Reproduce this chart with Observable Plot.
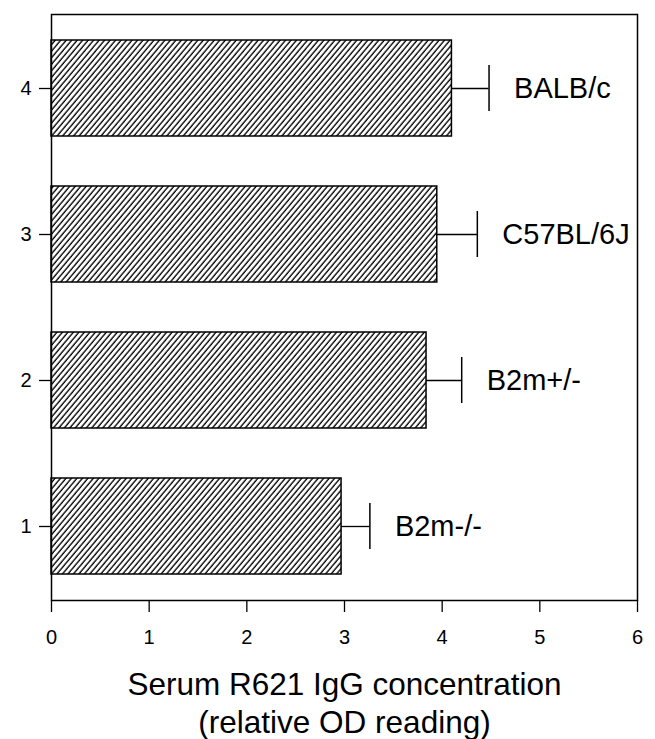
<!DOCTYPE html>
<html>
<head>
<meta charset="utf-8">
<script src="https://cdn.jsdelivr.net/npm/d3@7"></script>
<script src="https://cdn.jsdelivr.net/npm/@observablehq/plot@0.6"></script>
<style>
  html, body { margin: 0; padding: 0; background: #fff; }
  svg { font-family: "Liberation Sans", Arial, Helvetica, sans-serif; }
</style>
</head>
<body>
<div id="chart"></div>
<script>
// Data
const groups = ["1", "2", "3", "4"];
const strains = ["B2m-/-", "B2m+/-", "C57BL/6J", "BALB/c"];
const means = [2.97, 3.84, 3.95, 4.10];
const upper = [3.26, 4.20, 4.36, 4.48];
const xTicks = [0, 1, 2, 3, 4, 5, 6];
const axisTitle = "Serum R621 IgG concentration\n(relative OD reading)";

const rows = groups.map((g, i) => ({group: g, strain: strains[i], mean: means[i], upper: upper[i]}));

const plot = Plot.plot({
  width: 655,
  height: 739,
  marginLeft: 51,
  marginRight: 18,
  marginTop: 14,
  marginBottom: 139,
  style: {fontFamily: '"Liberation Sans", Arial, Helvetica, sans-serif', fontSize: "20px", background: "#fff", color: "#000"},
  x: {domain: [0, 6]},
  y: {domain: groups.slice().reverse(), paddingInner: 0.345, paddingOuter: 0.1725},
  marks: [
    Plot.barX(rows, {x: "mean", y: "group", fill: "url(#hatch)", stroke: "#000", strokeWidth: 1.5}),
    Plot.ruleY(rows, {y: "group", x1: "mean", x2: "upper", stroke: "#000", strokeWidth: 1.3}),
    Plot.tickX(rows, {x: "upper", y: "group", insetTop: 25, insetBottom: 25, stroke: "#000", strokeWidth: 1.5}),
    Plot.text(rows, {x: "upper", y: "group", text: "strain", dx: 25, textAnchor: "start", fontSize: 29, fill: "#000"}),
    Plot.frame({stroke: "#000", strokeWidth: 1.5}),
    Plot.axisX(xTicks, {tickSize: 12, tickPadding: 17, fontSize: 20, tickFormat: d => String(d), label: null, stroke: "#000", strokeWidth: 1.3}),
    Plot.axisY({tickSize: 12, tickPadding: 8, fontSize: 20, label: null, stroke: "#000", strokeWidth: 1.3}),
    Plot.text([axisTitle], {frameAnchor: "bottom", lineAnchor: "top", dy: 68, fontSize: 31.5, lineHeight: 1.2, fill: "#000"})
  ]
});

// make sure tick labels use the intended size
d3.select(plot).selectAll("g[aria-label$='tick label'], g[aria-label$='tick label'] text").each(function() {
  this.setAttribute("font-size", "20");
  this.style.fontSize = "20px";
});

// hatch pattern definition
const ns = "http://www.w3.org/2000/svg";
const defs = document.createElementNS(ns, "defs");
defs.innerHTML = `<pattern id="hatch" patternUnits="userSpaceOnUse" width="4.2" height="4.2" patternTransform="rotate(40)">
  <rect width="4.2" height="4.2" fill="#fff"></rect>
  <line x1="1" y1="0" x2="1" y2="4.2" stroke="#000" stroke-width="1.35"></line>
</pattern>`;
plot.insertBefore(defs, plot.firstChild);
document.getElementById("chart").appendChild(plot);
</script>
</body>
</html>
